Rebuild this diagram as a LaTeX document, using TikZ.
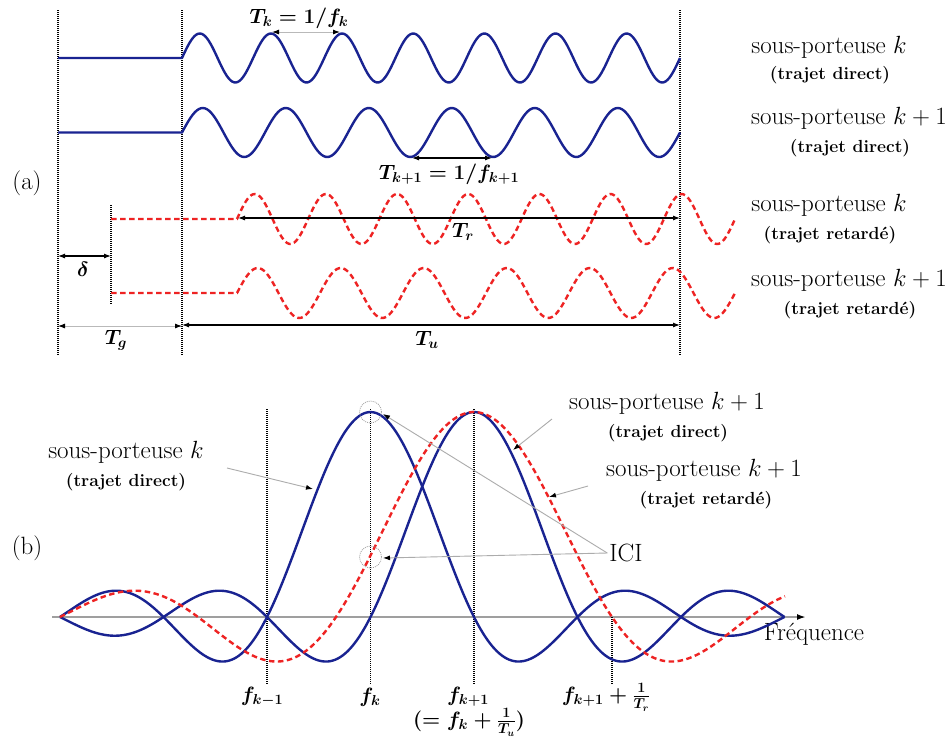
\documentclass[tikz,border=0pt]{standalone}
\usetikzlibrary{arrows.meta}
\definecolor{wblue}{RGB}{25,35,145}
\definecolor{wred}{RGB}{238,35,35}
\begin{document}
\begin{tikzpicture}[x=1pt,y=-1pt,
  declare function={sinc(\u)=(abs(\u)<0.0005)?1:sin(180*\u)/(pi*\u);},
  bluewave/.style={draw=wblue,line width=2.4pt,line join=round},
  redwave/.style={draw=wred,line width=2.4pt,dash pattern=on 5.5pt off 3.5pt},
  vdot/.style={draw=black,line width=1.1pt,dash pattern=on 1pt off 1pt},
  dimblack/.style={draw=black,line width=1.1pt,{Latex[length=7pt,width=5pt]}-{Latex[length=7pt,width=5pt]}},
  dimgray/.style={draw=gray!55,line width=0.9pt,{Latex[length=7pt,width=5pt,color=black]}-{Latex[length=7pt,width=5pt,color=black]}},
  callout/.style={draw=gray!65,line width=0.9pt,-{Latex[length=7pt,width=5pt,color=black]}},
  circ/.style={draw=gray!70,line width=0.8pt,dash pattern=on 1pt off 1pt},
  lbl/.style={font=\fontsize{25}{29}\selectfont,inner sep=0pt},
  sublbl/.style={font=\fontsize{17.5}{21}\selectfont\bfseries,inner sep=0pt},
  mlbl/.style={font=\fontsize{20.5}{24}\selectfont\boldmath,inner sep=0pt},
]
\useasboundingbox[fill=white] (0,0) rectangle (952,740);

% ---------------- (a) ----------------
\draw[vdot] (58,10) -- (58,355);
\draw[vdot] (182,10) -- (182,355);
\draw[vdot] (680,10) -- (680,355);
\draw[vdot] (111,205) -- (111,305);

\draw[bluewave] (58,58) -- (182,58) -- plot[domain=182:680,samples=280] (\x,{58-24.5*sin(((\x-182)/71.143)*360)});
\draw[bluewave] (58,132.5) -- (182,132.5) -- plot[domain=182:680,samples=240] (\x,{132.5-24.5*sin(((\x-182)/83)*360)});
\draw[redwave] (111,219) -- (237,219) -- plot[domain=237:735,samples=280] (\x,{219-25*sin(((\x-237)/71.143)*360)});
\draw[redwave] (111,293) -- (237,293) -- plot[domain=237:735,samples=240] (\x,{293-25*sin(((\x-237)/83)*360)});

\coordinate (tka) at (272,32); \coordinate (tkb) at (340,32);
\draw[dimgray] (tka) -- (tkb);
\node[mlbl] (tk) at (299,18) {$T_k=1/f_k$};
\coordinate (tk1a) at (412,158); \coordinate (tk1b) at (492,158);
\draw[dimblack] (tk1a) -- (tk1b);
\node[mlbl] (tk1) at (449,174) {$T_{k+1}=1/f_{k+1}$};
\coordinate (tra) at (238,218); \coordinate (trb) at (680,218);
\draw[dimblack] (tra) -- (trb);
\node[mlbl] (tr) at (463,232) {$T_r$};
\coordinate (dla) at (58,256); \coordinate (dlb) at (111,256);
\draw[dimblack] (dla) -- (dlb);
\node[mlbl] (dl) at (83,269) {$\delta$};
\coordinate (tga) at (58,326); \coordinate (tgb) at (182,326);
\draw[dimgray] (tga) -- (tgb);
\node[mlbl] (tg) at (116,340) {$T_g$};
\coordinate (tua) at (182,325); \coordinate (tub) at (680,325);
\draw[dimblack] (tua) -- (tub);
\node[mlbl] (tu) at (427,340) {$T_u$};

\node[lbl] (pa) at (27,183) {(a)};

\node[lbl] (l1) at (829,47) {sous-porteuse $k$};
\node[sublbl] (s1) at (830,75) {(trajet direct)};
\node[lbl] (l2) at (849,118) {sous-porteuse $k+1$};
\node[sublbl] (s2) at (850,148) {(trajet direct)};
\node[lbl] (l3) at (829,205) {sous-porteuse $k$};
\node[sublbl] (s3) at (830,235) {(trajet retard\'e)};
\node[lbl] (l4) at (849,280) {sous-porteuse $k+1$};
\node[sublbl] (s4) at (850,310) {(trajet retard\'e)};

% ---------------- (b) ----------------
\coordinate (ax0) at (52,617); \coordinate (ax1) at (806,617);
\draw[draw=gray!75,line width=1.8pt,-{Latex[length=9pt,width=6pt,color=black]}] (ax0) -- (ax1);
\node[lbl] (freq) at (814,634) {Fr\'equence};

\draw[vdot] (267,409) -- (267,685);
\draw[vdot] (370.5,409) -- (370.5,685);
\draw[vdot] (474,409) -- (474,685);
\draw[vdot] (612,617) -- (612,685);

\draw[bluewave] plot[domain=60:784.5,samples=301,smooth] (\x,{617-205*sinc((\x-370.5)/103.5)});
\draw[bluewave] plot[domain=60:784.5,samples=301,smooth] (\x,{617-205*sinc((\x-474)/103.5)});
\draw[redwave] plot[domain=60:785,samples=301,smooth] (\x,{617-205*sinc((\x-474)/138)});

\node[circ,circle,minimum size=22pt,inner sep=0pt] (c1) at (370.5,412) {};
\node[circ,circle,minimum size=22pt,inner sep=0pt] (c2) at (370.5,557) {};

\node[mlbl] (fkm) at (262,697) {$f_{k-1}$};
\node[mlbl] (fk) at (370,697) {$f_k$};
\node[mlbl] (fkp) at (468,697) {$f_{k+1}$};
\node[mlbl] (fkpu) at (469,722) {$(=f_k+\frac{1}{T_u})$};
\node[mlbl] (fkpr) at (606,697) {$f_{k+1}+\frac{1}{T_r}$};

\node[lbl] (bl1) at (126,452) {sous-porteuse $k$};
\node[sublbl] (bs1) at (126,482) {(trajet direct)};
\node[lbl] (bl2) at (667,403) {sous-porteuse $k+1$};
\node[sublbl] (bs2) at (668,433) {(trajet direct)};
\node[lbl] (bl3) at (704,470) {sous-porteuse $k+1$};
\node[sublbl] (bs3) at (706,500) {(trajet retard\'e)};
\node[lbl] (ici) at (626,553) {ICI};
\node[lbl] (pb) at (27,548) {(b)};

\coordinate (a1s) at (227,468); \coordinate (a1e) at (313,489);
\draw[callout] (a1s) -- (a1e);
\coordinate (a2s) at (552,419); \coordinate (a2e) at (513,450);
\draw[callout] (a2s) -- (a2e);
\coordinate (a3s) at (588,486); \coordinate (a3e) at (549,497);
\draw[callout] (a3s) -- (a3e);
\coordinate (ic1) at (383,414); \coordinate (ic2) at (383,558);
\draw[callout] ([xshift=-2pt]ici.west) -- (ic1);
\draw[callout] ([xshift=-2pt]ici.west) -- (ic2);
\end{tikzpicture}
\end{document}
